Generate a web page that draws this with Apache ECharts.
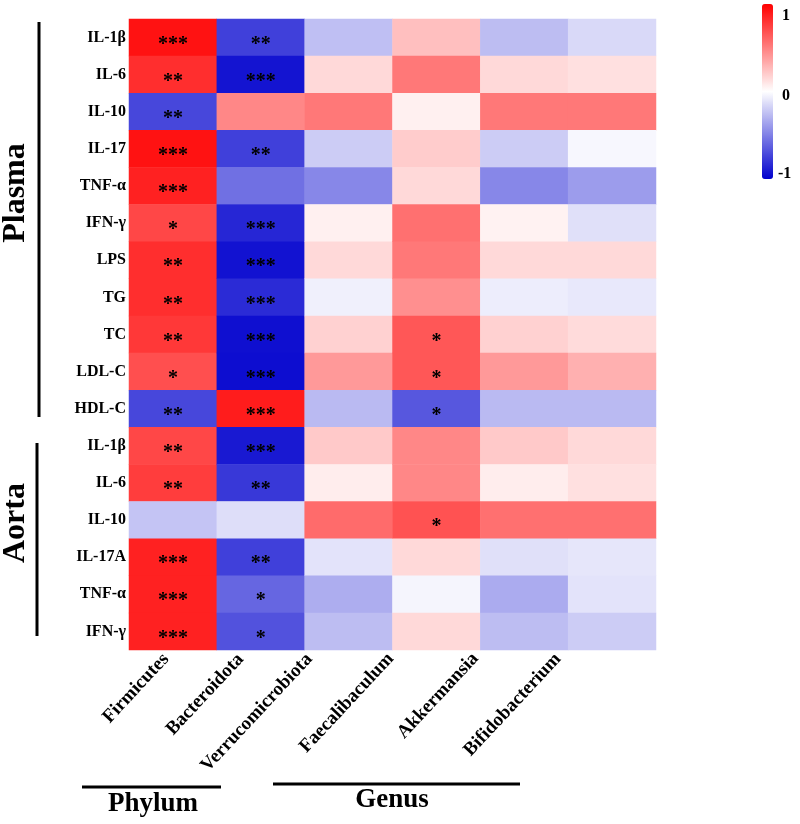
<!DOCTYPE html>
<html>
<head>
<meta charset="utf-8">
<script src="https://cdn.jsdelivr.net/npm/echarts@6/dist/echarts.min.js"></script>
<style>
html,body{margin:0;padding:0;background:#fff;}
#chart{width:800px;height:824px;}
</style>
</head>
<body>
<div id="chart"></div>
<script>
const columns = ['Firmicutes','Bacteroidota','Verrucomicrobiota','Faecalibaculum','Akkermansia','Bifidobacterium'];
const rowLabels = ['IL-1β','IL-6','IL-10','IL-17','TNF-α','IFN-γ','LPS','TG','TC','LDL-C','HDL-C',
                   'IL-1β','IL-6','IL-10','IL-17A','TNF-α','IFN-γ'];

// correlation values per column (rows top to bottom)
const firmicutes        = [0.93, 0.82,-0.72, 0.93, 0.87, 0.72, 0.82, 0.82, 0.78, 0.69,-0.72, 0.72, 0.76,-0.23, 0.87, 0.87, 0.87];
const bacteroidota      = [-0.75,-0.92, 0.47,-0.75,-0.56,-0.85,-0.93,-0.83,-0.94,-0.95, 0.89,-0.90,-0.78,-0.13,-0.75,-0.60,-0.68];
const verrucomicrobiota = [-0.25, 0.15, 0.53,-0.20,-0.47, 0.06, 0.15,-0.06, 0.18, 0.40,-0.27, 0.21, 0.07, 0.58,-0.11,-0.32,-0.26];
const faecalibaculum    = [0.25, 0.53, 0.06, 0.20, 0.15, 0.56, 0.53, 0.44, 0.66, 0.66,-0.66, 0.47, 0.47, 0.68, 0.15,-0.04, 0.15];
const akkermansia       = [-0.26, 0.15, 0.53,-0.20,-0.47, 0.05, 0.15,-0.07, 0.18, 0.40,-0.27, 0.21, 0.07, 0.56,-0.12,-0.33,-0.26];
const bifidobacterium   = [-0.15, 0.12, 0.53,-0.03,-0.39,-0.12, 0.15,-0.09, 0.14, 0.31,-0.27, 0.15, 0.12, 0.56,-0.10,-0.11,-0.20];

// significance marks per column
const firmicutesSig     = ['***','**','**','***','***','*','**','**','**','*','**','**','**','','***','***','***'];
const bacteroidotaSig   = ['**','***','','**','','***','***','***','***','***','***','***','**','','**','*','*'];
const verrucoSig        = ['','','','','','','','','','','','','','','','',''];
const faecaliSig        = ['','','','','','','','','*','*','*','','','*','','',''];
const akkermansiaSig    = ['','','','','','','','','','','','','','','','',''];
const bifidoSig         = ['','','','','','','','','','','','','','','','',''];

const colorbarTicks = ['1','0','-1'];
const groupLabels = ['Plasma','Aorta','Phylum','Genus'];

// horizontal leftward shift (px) of each rotated x label, as placed in the original
const xLabelShift = [7, 20, 39, 46, 49, 54];

const valueCols = [firmicutes, bacteroidota, verrucomicrobiota, faecalibaculum, akkermansia, bifidobacterium];
const sigCols = [firmicutesSig, bacteroidotaSig, verrucoSig, faecaliSig, akkermansiaSig, bifidoSig];

const data = [];
valueCols.forEach((col, x) => {
  col.forEach((v, y) => {
    data.push({value: [x, y, v], sig: sigCols[x][y]});
  });
});

const serif = '"Liberation Serif","Times New Roman",serif';
const ROT = 47;
const th = ROT * Math.PI / 180;
const rich = {};
xLabelShift.forEach((d, i) => {
  rich['c' + i] = {
    fontFamily: serif, fontWeight: 'bold', fontSize: 19, color: '#000',
    padding: [0, Math.round(d * Math.cos(th)), Math.round(2 * d * Math.sin(th)), 0]
  };
});

const chart = echarts.init(document.getElementById('chart'), null, {renderer: 'canvas'});

chart.setOption({
  animation: false,
  backgroundColor: '#ffffff',
  grid: {left: 129, top: 19, width: 527, height: 631},
  xAxis: {
    type: 'category',
    data: columns,
    axisLine: {show: false},
    axisTick: {show: false},
    splitLine: {show: false},
    axisLabel: {
      rotate: ROT,
      margin: 6,
      interval: 0,
      fontFamily: serif,
      fontWeight: 'bold',
      fontSize: 19,
      color: '#000',
      formatter: (v, i) => '{c' + i + '|' + v + '}',
      rich: rich
    }
  },
  yAxis: {
    type: 'category',
    inverse: true,
    data: rowLabels.map((l, i) => String(i)),
    axisLine: {show: false},
    axisTick: {show: false},
    splitLine: {show: false},
    axisLabel: {
      interval: 0,
      margin: 3,
      fontFamily: serif,
      fontWeight: 'bold',
      fontSize: 16,
      color: '#000',
      formatter: (v) => rowLabels[+v]
    }
  },
  visualMap: {
    type: 'continuous',
    min: -1,
    max: 1,
    calculable: false,
    showLabel: false,
    text: null,
    padding: 0,
    left: 762,
    top: 4,
    itemWidth: 11,
    itemHeight: 175,
    inRange: {color: ['#0000cd', '#ffffff', '#ff0000']}
  },
  series: [{
    type: 'heatmap',
    data: data,
    itemStyle: {borderWidth: 0},
    emphasis: {disabled: true},
    label: {
      show: true,
      formatter: (p) => p.data.sig,
      fontFamily: serif,
      fontWeight: 'bold',
      fontSize: 20,
      color: '#000',
      offset: [0, 7]
    }
  }],
  graphic: [
    {type: 'line', shape: {x1: 39, y1: 22, x2: 39, y2: 417}, style: {stroke: '#000', lineWidth: 3}},
    {type: 'line', shape: {x1: 37, y1: 443, x2: 37, y2: 636}, style: {stroke: '#000', lineWidth: 3}},
    {type: 'line', shape: {x1: 82, y1: 787, x2: 221, y2: 787}, style: {stroke: '#000', lineWidth: 3}},
    {type: 'line', shape: {x1: 273, y1: 784, x2: 520, y2: 784}, style: {stroke: '#000', lineWidth: 3}},
    {type: 'text', x: 16, y: 193, rotation: Math.PI / 2,
     style: {text: groupLabels[0], font: 'bold 32px ' + serif, fill: '#000', textAlign: 'center', textVerticalAlign: 'middle'}},
    {type: 'text', x: 16, y: 523, rotation: Math.PI / 2,
     style: {text: groupLabels[1], font: 'bold 32px ' + serif, fill: '#000', textAlign: 'center', textVerticalAlign: 'middle'}},
    {type: 'text', x: 153, y: 804,
     style: {text: groupLabels[2], font: 'bold 27px ' + serif, fill: '#000', textAlign: 'center', textVerticalAlign: 'middle'}},
    {type: 'text', x: 392, y: 800,
     style: {text: groupLabels[3], font: 'bold 27px ' + serif, fill: '#000', textAlign: 'center', textVerticalAlign: 'middle'}},
    {type: 'text', x: 782, y: 16,
     style: {text: colorbarTicks[0], font: 'bold 16px ' + serif, fill: '#000', textAlign: 'left', textVerticalAlign: 'middle'}},
    {type: 'text', x: 782, y: 96,
     style: {text: colorbarTicks[1], font: 'bold 16px ' + serif, fill: '#000', textAlign: 'left', textVerticalAlign: 'middle'}},
    {type: 'text', x: 778, y: 174,
     style: {text: colorbarTicks[2], font: 'bold 16px ' + serif, fill: '#000', textAlign: 'left', textVerticalAlign: 'middle'}}
  ]
});
</script>
</body>
</html>
